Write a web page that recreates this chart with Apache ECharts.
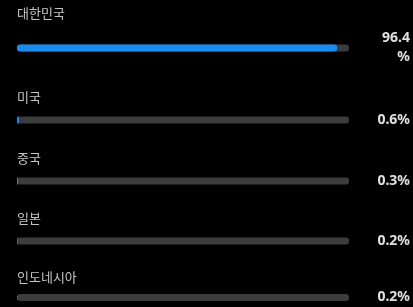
<!DOCTYPE html>
<html>
<head>
<meta charset="utf-8">
<script src="https://cdn.jsdelivr.net/npm/echarts@6/dist/echarts.min.js"></script>
<style>
  html, body { margin: 0; padding: 0; background: #000; }
  #chart { width: 413px; height: 307px; }
</style>
</head>
<body>
<div id="chart"></div>
<script>
const countries = ["대한민국", "미국", "중국", "일본", "인도네시아"];
const shares = [96.4, 0.6, 0.3, 0.2, 0.2];
const valueLabels = ["96.4\n%", "0.6%", "0.3%", "0.2%", "0.2%"];

// layout: bar centre y for each row, and gap from bar to its name
const rowCenters = [48, 120, 181, 241, 299];
const nameGaps = [31, 19, 19, 19, 18];
const barHeight = 7;

const chart = echarts.init(document.getElementById("chart"), null, { renderer: "canvas" });

const grids = [];
const xAxes = [];
const yAxes = [];
const series = [];

countries.forEach((name, i) => {
  grids.push({
    left: 17,
    width: 334,
    top: rowCenters[i] - barHeight / 2,
    height: barHeight,
  });
  xAxes.push({
    gridIndex: i,
    type: "value",
    min: 0,
    max: 100,
    show: false,
  });
  yAxes.push({
    gridIndex: i,
    type: "category",
    data: [name],
    position: "left",
    axisLine: { show: false },
    axisTick: { show: false },
    axisLabel: { show: false },
    name: name,
    nameLocation: "end",
    nameGap: nameGaps[i],
    nameTextStyle: {
      align: "left",
      verticalAlign: "middle",
      color: "#c4c4c4",
      fontSize: 13,
      fontFamily: "Noto Sans CJK KR",
    },
  });
  yAxes.push({
    gridIndex: i,
    type: "category",
    data: [valueLabels[i]],
    position: "right",
    axisLine: { show: false },
    axisTick: { show: false },
    axisLabel: {
      align: "right",
      margin: 61,
      color: "#e0e0e0",
      fontSize: 14,
      fontWeight: "bold",
      lineHeight: 19,
      fontFamily: "Noto Sans",
    },
  });
  series.push({
    type: "bar",
    xAxisIndex: i,
    yAxisIndex: i * 2,
    data: [shares[i]],
    barWidth: barHeight,
    showBackground: true,
    backgroundStyle: { color: "#3c3c3c", borderRadius: 3 },
    itemStyle: { color: "#1a8cf0", borderRadius: 3 },
    silent: true,
  });
});

chart.setOption({
  backgroundColor: "#000",
  animation: false,
  grid: grids,
  xAxis: xAxes,
  yAxis: yAxes,
  series: series,
});
</script>
</body>
</html>
